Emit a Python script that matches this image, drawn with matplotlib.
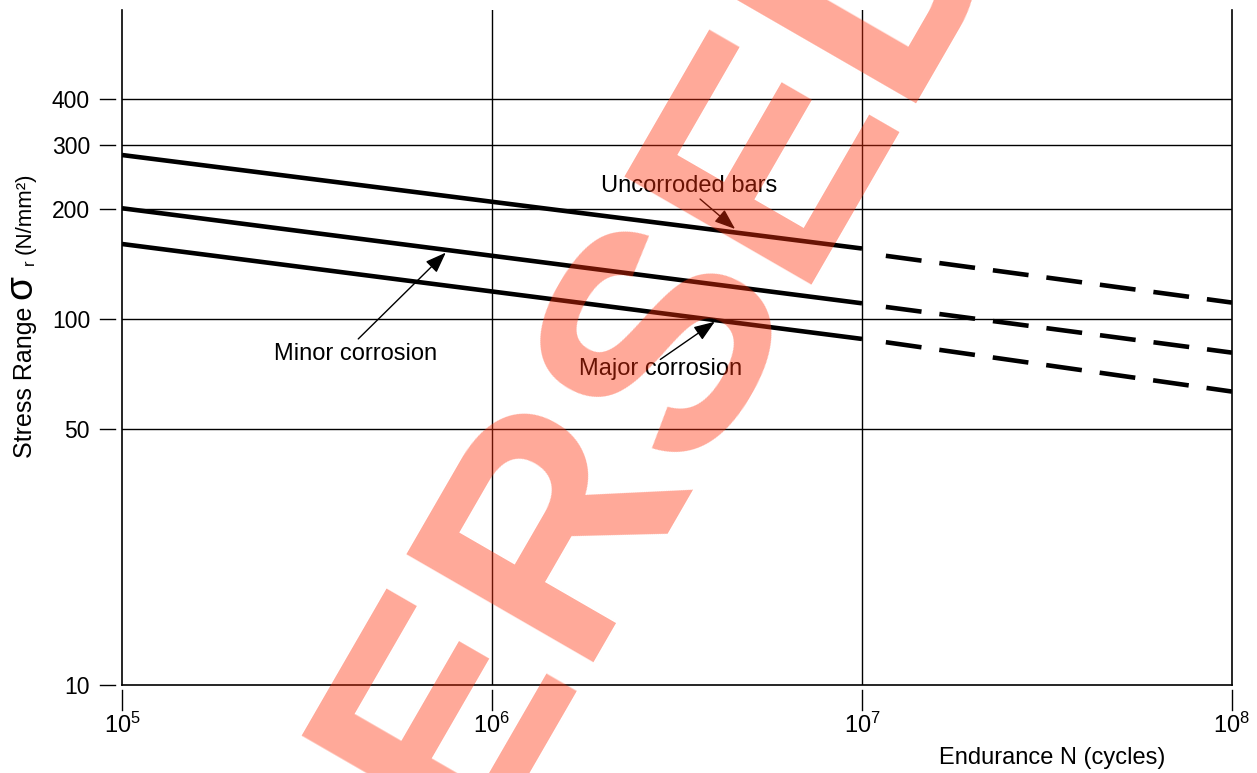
import matplotlib
matplotlib.use("Agg")
import matplotlib.pyplot as plt

plt.rcParams['font.family'] = ['Liberation Sans', 'DejaVu Sans']
plt.rcParams['mathtext.fontset'] = 'custom'
plt.rcParams['mathtext.rm'] = 'Liberation Sans'
plt.rcParams['mathtext.it'] = 'Liberation Sans:italic'
plt.rcParams['mathtext.bf'] = 'Liberation Sans:bold'

# ---------------- data ----------------
n_solid = [1e5, 1e7]
n_dashed = [1.16e7, 1e8]
uncorroded_solid = [281, 156]
uncorroded_dashed = [149, 111]
minor_solid = [201, 110.5]
minor_dashed = [108, 81]
major_solid = [160.5, 88.3]
major_dashed = [86.5, 63.4]

y_ticks = [10, 50, 100, 200, 300, 400]
y_tick_labels = ["10", "50", "100", "200", "300", "400"]
y_grid = [50, 100, 200, 300, 400]
x_ticks = [1e5, 1e6, 1e7, 1e8]
x_tick_labels = [r"$10^{5}$", r"$10^{6}$", r"$10^{7}$", r"$10^{8}$"]
x_grid = [1e6, 1e7]

ann_labels = ["Uncorroded bars", "Minor corrosion", "Major corrosion"]
ann_text_pos = [(3.41e6, 231), (4.28e5, 80.4), (2.86e6, 73.1)]
ann_tail = [(3.65e6, 213), (4.35e5, 88.3), (2.85e6, 77.6)]
ann_tip = [(4.54e6, 176.4), (7.5e5, 152), (4.0e6, 98.4)]

# ---------------- figure ----------------
W, H = 1257, 773
fig = plt.figure(figsize=(W / 100, H / 100), dpi=100)
ax = fig.add_axes([122 / W, 88 / H, 1110 / W, 675 / H])
ax.set_xscale('log')
ax.set_yscale('log')
ax.set_xlim(1e5, 1e8)
ax.set_ylim(10, 700)
ax.minorticks_off()

ax.set_yticks(y_ticks)
ax.set_yticklabels(y_tick_labels, fontsize=16.5)
ax.set_xticks(x_ticks)
ax.set_xticklabels(x_tick_labels, fontsize=17)
ax.tick_params(which='both', length=0)
ax.tick_params(axis='y', pad=23)
ax.tick_params(axis='x', pad=20)

for s in ['left', 'right', 'bottom']:
    ax.spines[s].set_linewidth(1.2)
ax.spines['top'].set_visible(False)

for g in y_grid:
    ax.axhline(g, color='black', lw=1.0, zorder=1)
for g in x_grid:
    ax.axvline(g, color='black', lw=1.0, zorder=1)

# detached tick marks
for y in y_ticks:
    ax.plot([-0.0198, -0.0063], [y, y], transform=ax.get_yaxis_transform(),
            clip_on=False, color='black', lw=1.0)
for x in x_ticks:
    ax.plot([x, x], [-0.0074, -0.037], transform=ax.get_xaxis_transform(),
            clip_on=False, color='black', lw=1.0)

# curves
for solid, dashed in [(uncorroded_solid, uncorroded_dashed),
                      (minor_solid, minor_dashed),
                      (major_solid, major_dashed)]:
    ax.plot(n_solid, solid, color='black', lw=3.3, solid_capstyle='butt', zorder=3)
    ax.plot(n_dashed, dashed, color='black', lw=3.3, dashes=(7.85, 3.93),
            dash_capstyle='butt', zorder=3)

# annotations
for lab, tp, tail, tip in zip(ann_labels, ann_text_pos, ann_tail, ann_tip):
    ax.text(tp[0], tp[1], lab, fontsize=17, ha='center', va='center', zorder=4)
    ax.annotate('', xy=tip, xytext=tail,
                arrowprops=dict(arrowstyle='-|>,head_length=0.75,head_width=0.28',
                                color='black', lw=1.0, shrinkA=0, shrinkB=0,
                                mutation_scale=17), zorder=4)

# axis labels
fig.text(25 / W, (H - 382) / H, "Stress Range", rotation=90, fontsize=18,
         ha='center', va='center')
fig.text(21 / W, (H - 287.5) / H, "σ", rotation=90, fontsize=28,
         ha='center', va='center')
fig.text(29 / W, (H - 262.5) / H, "r", rotation=90, fontsize=12,
         ha='center', va='center')
fig.text(25 / W, (H - 213) / H, "(N/mm²)", rotation=90, fontsize=16,
         ha='center', va='center')
fig.text(1052 / W, (H - 758) / H, "Endurance N (cycles)", fontsize=17,
         ha='center', va='center')

# watermark
fig.text(0.1212, -0.8254, "SUPERSEDED", rotation=60, rotation_mode='anchor',
         ha='left', va='baseline', fontsize=226, fontweight='bold',
         family='Liberation Sans', color=(1.0, 0.188, 0.039), alpha=0.42,
         zorder=10)

fig.savefig("out.png", dpi=100)
